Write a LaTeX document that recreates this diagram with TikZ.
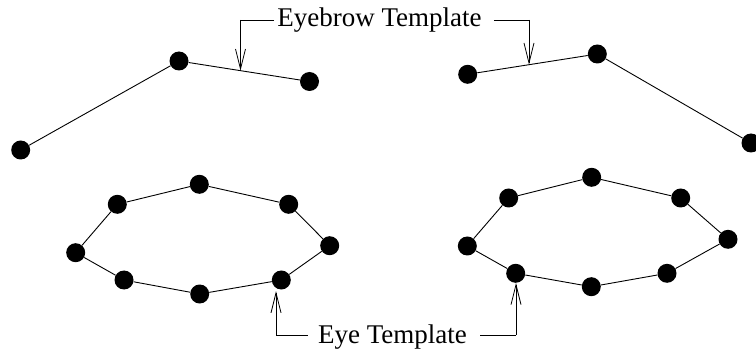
\documentclass[tikz,border=0pt]{standalone}
\usepackage{fontspec}
\setmainfont{Liberation Serif}
\usetikzlibrary{arrows.meta}
\begin{document}
\begin{tikzpicture}[x=1pt,y=-1pt,
  dot/.style={circle,fill=black,draw=none,minimum size=19pt,inner sep=0pt},
  link/.style={line width=0.9pt},
  callout/.style={line width=0.9pt},
  pointer/.style={line width=0.9pt,-{Straight Barb[length=20pt,width=10pt,line width=0.8pt]}},
  lbl/.style={font=\fontsize{27}{30}\selectfont,inner sep=3pt,anchor=base}]
\useasboundingbox (0,0) rectangle (756,350);
% left eyebrow
\node[dot] (lb1) at (20.7,150) {};
\node[dot] (lb2) at (179,61) {};
\node[dot] (lb3) at (309.5,81.5) {};
\draw[link] (lb1) -- (lb2) -- (lb3);
% right eyebrow
\node[dot] (rb1) at (467.7,74.3) {};
\node[dot] (rb2) at (597.3,54) {};
\node[dot] (rb3) at (751,143) {};
\draw[link] (rb1) -- (rb2) -- (rb3);
% left eye
\node[dot] (l1) at (75.7,252.7) {};
\node[dot] (l2) at (117.3,204.3) {};
\node[dot] (l3) at (199.3,184.3) {};
\node[dot] (l4) at (288.7,204.3) {};
\node[dot] (l5) at (329.7,245.7) {};
\node[dot] (l6) at (281.3,280) {};
\node[dot] (l7) at (199.7,294) {};
\node[dot] (l8) at (124,280) {};
\draw[link] (l1) -- (l2) -- (l3) -- (l4) -- (l5) -- (l6) -- (l7) -- (l8) -- (l1);
% right eye
\node[dot] (r1) at (467.3,246) {};
\node[dot] (r2) at (508.7,198) {};
\node[dot] (r3) at (591.7,177.3) {};
\node[dot] (r4) at (680.7,198) {};
\node[dot] (r5) at (728,239.3) {};
\node[dot] (r6) at (667,273.3) {};
\node[dot] (r7) at (591.3,286.7) {};
\node[dot] (r8) at (515.7,273.3) {};
\draw[link] (r1) -- (r2) -- (r3) -- (r4) -- (r5) -- (r6) -- (r7) -- (r8) -- (r1);
% eyebrow label
\node[lbl] (ebl) at (379.5,27) {Eyebrow Template};
\path (lb2) -- (lb3) coordinate[pos=0.466] (lt);
\path (rb1) -- (rb2) coordinate[pos=0.473] (rt);
\coordinate (lc) at (240.5,20);
\coordinate (rc) at (529,20);
\draw[callout] (ebl.west |- lc) -- (lc);
\draw[pointer] (lc) -- (lc |- lt);
\draw[callout] ([xshift=9pt]ebl.east |- rc) -- (rc);
\draw[pointer] (rc) -- (rc |- rt);
% eye label
\node[lbl] (eyl) at (392.5,343) {Eye Template};
\coordinate (lc2) at (276,335);
\coordinate (rc2) at (516,335);
\draw[callout] ([xshift=-7pt]eyl.west |- lc2) -- (lc2);
\draw[pointer] (lc2) -- ([yshift=-1.5pt]lc2 |- l6.south);
\draw[callout] ([xshift=10pt]eyl.east |- rc2) -- (rc2);
\draw[pointer] (rc2) -- (rc2 |- r8.south);
\end{tikzpicture}
\end{document}
